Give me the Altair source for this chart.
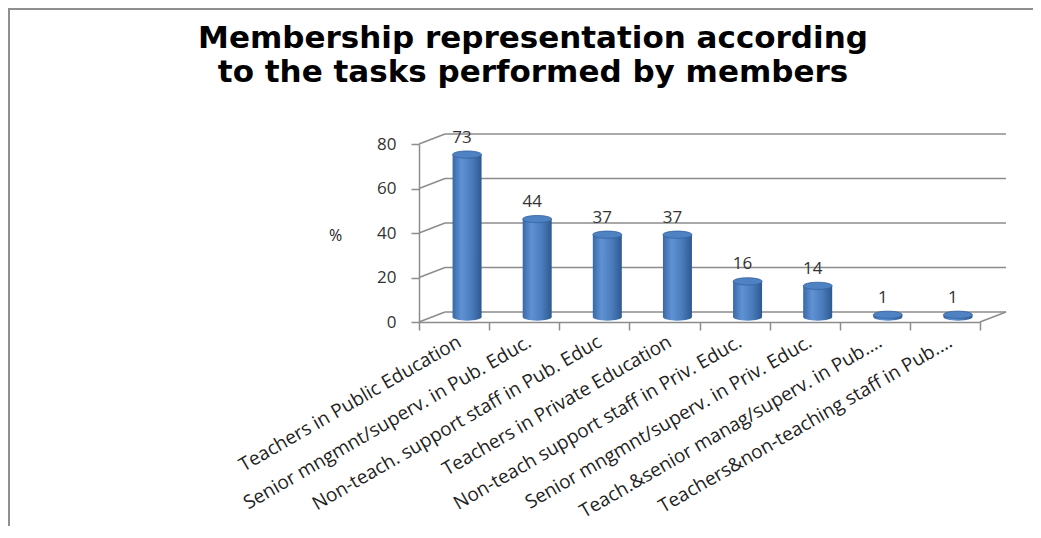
import altair as alt
import pandas as pd

categories = [
    "Teachers in Public Education",
    "Senior mngmnt/superv. in Pub. Educ.",
    "Non-teach. support staff in Pub. Educ",
    "Teachers in Private Education",
    "Non-teach support staff in Priv. Educ.",
    "Senior mngmnt/superv. in Priv. Educ.",
    "Teach.&senior manag/superv. in Pub.…",
    "Teachers&non-teaching staff in Pub.…",
]
values = [73, 44, 37, 37, 16, 14, 1, 1]
y_ticks = [0, 20, 40, 60, 80]
title_lines = ["Membership  representation according", "to the tasks performed by members"]

df = pd.DataFrame({"cat": categories, "value": values})
grid_df = pd.DataFrame({"value": y_ticks})
floor_df = pd.DataFrame({"value": [0]})

W, H = 561, 178
PAD_L, PAD_T = 411, 136
SVG_W, SVG_H = 1025, 518
DX, DY = 26, -10
BX = 13
BW = 29
GRAY = "#8c8c8c"

yscale = alt.Scale(domain=[0, 80], nice=False, zero=True)
yaxis = alt.Axis(values=y_ticks, title="%", titleAngle=0, titleAlign="center",
                 titleBaseline="middle", titleX=-84, titleY=91, titleFont="Open Sans",
                 titleFontSize=16, titleFontWeight="normal", titleColor="#222",
                 labelFont="Open Sans", labelFontSize=17, labelColor="#333",
                 labelPadding=15, tickSize=8, tickColor=GRAY, tickWidth=1.5,
                 domainColor=GRAY, domainWidth=1.5, grid=False)
xscale = alt.Scale(domain=categories, paddingInner=0, paddingOuter=0)
xaxis = alt.Axis(title=None, labelAngle=-30, labelAlign="right", labelBaseline="middle",
                 labelFont="Open Sans", labelFontSize=19, labelColor="#222",
                 labelPadding=10, labelOffset=5, labelLimit=500,
                 tickBand="extent", tickSize=8, tickColor=GRAY, tickWidth=1.5,
                 domainColor=GRAY, domainWidth=1.5, grid=False)

X = alt.X("cat:N", scale=xscale, axis=xaxis, sort=categories)
Y = alt.Y("value:Q", scale=yscale, axis=yaxis)

bar_grad = alt.Gradient(gradient="linear", x1=0, x2=1, y1=0, y2=0, stops=[
    alt.GradientStop(offset=0, color="#3a68a6"),
    alt.GradientStop(offset=0.3, color="#5f92d4"),
    alt.GradientStop(offset=0.65, color="#4b7dbd"),
    alt.GradientStop(offset=1, color="#2d5991"),
])

ELLIPSE = "M -1 0 A 1 0.25 0 1 1 1 0 A 1 0.25 0 1 1 -1 0 Z"

# back wall gridlines
grid = alt.Chart(grid_df).mark_rule(color=GRAY, strokeWidth=1.5, xOffset=DX, x2Offset=DX,
                                     yOffset=DY).encode(
    x=alt.value(0), x2=alt.value(W), y=Y)
# left wall connectors
conn = alt.Chart(grid_df).mark_rule(color=GRAY, strokeWidth=1.5, x2Offset=DX,
                                     y2Offset=DY).encode(
    x=alt.value(0), x2=alt.value(0), y=Y, y2="value:Q")
# right floor edge
floor = alt.Chart(floor_df).mark_rule(color=GRAY, strokeWidth=1.5, x2Offset=DX,
                                       y2Offset=DY).encode(
    x=alt.value(W), x2=alt.value(W), y=Y, y2="value:Q")

base = alt.Chart(df)
bottom = base.mark_point(shape=ELLIPSE, filled=True, size=BW * BW, opacity=1,
                         fill=bar_grad, xOffset=BX, yOffset=-5).encode(
    x=X, y=alt.Y("zero:Q", scale=yscale, axis=yaxis)).transform_calculate(zero="0")
bars = base.mark_bar(width=BW, color=bar_grad, xOffset=BX, yOffset=-5,
                     y2Offset=-5).encode(x=X, y=Y)
tops = base.mark_point(shape=ELLIPSE, filled=True, size=BW * BW, opacity=1,
                       fill="#4f82c3", stroke="#34629d", strokeWidth=0.8,
                       xOffset=BX, yOffset=-5).encode(x=X, y=Y)
labels = base.mark_text(font="Open Sans", fontSize=17, color="#333",
                        baseline="bottom", align="center", dx=8, dy=-13).encode(
    x=X, y=Y, text="value:Q")

frame_left = alt.Chart(floor_df).mark_rule(color="#8f8f8f", strokeWidth=2).encode(
    x=alt.value(-PAD_L + 1), y=alt.value(-PAD_T), y2=alt.value(SVG_H - PAD_T))
frame_top = alt.Chart(floor_df).mark_rule(color="#8f8f8f", strokeWidth=2).encode(
    x=alt.value(-PAD_L), x2=alt.value(SVG_W - PAD_L + 20), y=alt.value(-PAD_T + 1))

title = alt.Chart(floor_df).mark_text(font="DejaVu Sans", fontWeight="bold", fontSize=31,
                                       color="#000", align="center", baseline="alphabetic",
                                       lineHeight=34).encode(
    x=alt.value(533 - 8 - PAD_L), y=alt.value(40 - PAD_T), text=alt.value(title_lines))

chart = alt.layer(frame_left, frame_top, title, grid, conn, floor, bottom, bars, tops,
                  labels).properties(
    width=W, height=H,
    background="white",
    autosize=alt.AutoSizeParams(type="none"),
    padding={"left": PAD_L, "top": PAD_T, "right": SVG_W - PAD_L - W,
             "bottom": SVG_H - PAD_T - H},
).configure_view(strokeWidth=0, stroke="transparent")

chart.save("out.html", embed_options={"renderer": "svg", "actions": False})
